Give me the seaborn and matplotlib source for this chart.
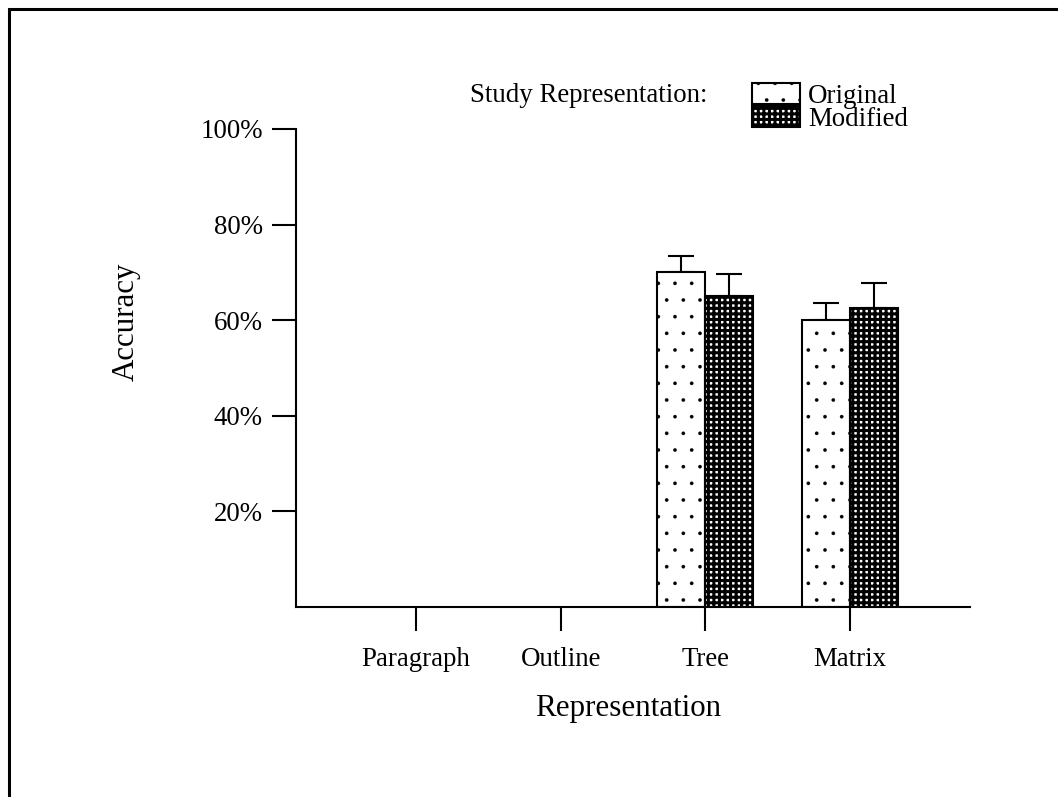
import numpy as np
import pandas as pd
import matplotlib
matplotlib.use("Agg")
import matplotlib.pyplot as plt
from matplotlib.patches import Patch
from matplotlib.lines import Line2D
import seaborn as sns

# ---- data ----
categories = ["Paragraph", "Outline", "Tree", "Matrix"]
levels = ["Original", "Modified"]
original = [np.nan, np.nan, 70.0, 60.0]
modified = [np.nan, np.nan, 65.0, 62.6]
original_err = [np.nan, np.nan, 3.5, 3.5]
modified_err = [np.nan, np.nan, 4.6, 5.2]
yticks = [20, 40, 60, 80, 100]
ytick_labels = ["20%", "40%", "60%", "80%", "100%"]

df = pd.DataFrame({
    "Representation": categories * 2,
    "Study": [levels[0]] * 4 + [levels[1]] * 4,
    "Accuracy": original + modified,
    "Err": original_err + modified_err,
})

sns.set_style("white")
plt.rcParams["font.family"] = ["Liberation Serif", "DejaVu Serif"]
plt.rcParams["hatch.linewidth"] = 1.0
for k in ["text.color", "axes.labelcolor", "xtick.color", "ytick.color",
          "axes.edgecolor"]:
    plt.rcParams[k] = "black"

W, H = 1058, 797
fig = plt.figure(figsize=(W / 100, H / 100), dpi=100)
ax = fig.add_axes([296 / W, 1 - 607 / H, (970 - 296) / W, (607 - 129) / H])

sns.barplot(data=df.dropna(), x="Representation", y="Accuracy", hue="Study",
            order=categories, hue_order=levels, palette=["white", "white"],
            width=0.664, gap=0, errorbar=None, edgecolor="black",
            linewidth=1.5, legend=False, ax=ax)

hatches = {"Original": ".", "Modified": "+++"}
hatch_lw = {"Original": 0.2, "Modified": 2.2}
for lvl, cont in zip(levels, ax.containers):
    sub = df[df["Study"] == lvl].dropna()
    for bar, (_, row) in zip(cont.patches, sub.iterrows()):
        bar.set_facecolor("white")
        bar.set_edgecolor("black")
        bar.set_linewidth(1.5)
        bar.set_hatch(hatches[lvl])
        try:
            bar.set_hatch_linewidth(hatch_lw[lvl])
        except Exception:
            pass
        bar.set_zorder(2)
        xc = bar.get_x() + bar.get_width() / 2
        ax.errorbar([xc], [row["Accuracy"]], yerr=[[0], [row["Err"]]],
                    fmt="none", ecolor="black", elinewidth=1.5,
                    capsize=9.4, capthick=1.5, zorder=1)

ax.set_xlim(-0.83, 3.83)
ax.set_ylim(0, 100)
ax.set_yticks(yticks)
ax.set_yticklabels(ytick_labels)
for s in ["top", "right"]:
    ax.spines[s].set_visible(False)
for s in ["left", "bottom"]:
    ax.spines[s].set_linewidth(1.5)
    ax.spines[s].set_color("black")
ax.tick_params(axis="y", direction="out", length=17, width=1.5, pad=7,
               labelsize=19.4, left=True, color="black", labelcolor="black")
ax.tick_params(axis="x", direction="out", length=17, width=1.5, pad=12,
               labelsize=19.4, bottom=True, color="black", labelcolor="black")

ax.set_xlabel("Representation", fontsize=22.3, color="black")
ax.set_ylabel("Accuracy", fontsize=22.3, color="black")
ax.xaxis.set_label_coords((628 - 296) / 674, (607 - 694) / 478)
ax.yaxis.set_label_coords((141 - 296) / 674, (607 - 322) / 478)

# legend
fig.text(470 / W, 1 - 95 / H, "Study Representation:", fontsize=19.4,
         ha="left", va="center", color="black")
handles = [Patch(facecolor="white", edgecolor="black", hatch=".", linewidth=1.5),
           Patch(facecolor="white", edgecolor="black", hatch="+++", linewidth=1.5)]
leg = fig.legend(handles, levels, loc="upper left",
                 bbox_to_anchor=(752 / W, 1 - 83 / H), frameon=False,
                 fontsize=19.4, handlelength=1.78, handleheight=0.85,
                 handletextpad=0.3, labelspacing=-0.12, borderpad=0,
                 borderaxespad=0)
for t in leg.get_texts():
    t.set_color("black")
for h, lvl in zip(leg.legend_handles, levels):
    try:
        h.set_hatch_linewidth(hatch_lw[lvl])
    except Exception:
        pass

# outer frame (left and top only)
fig.add_artist(Line2D([8.5 / W, 8.5 / W], [0, 1 - 9 / H],
                      transform=fig.transFigure, color="black", lw=2.2))
fig.add_artist(Line2D([8.5 / W, 1], [1 - 9 / H, 1 - 9 / H],
                      transform=fig.transFigure, color="black", lw=2.2,
                      solid_capstyle="projecting"))

fig.savefig("out.png", dpi=100)
